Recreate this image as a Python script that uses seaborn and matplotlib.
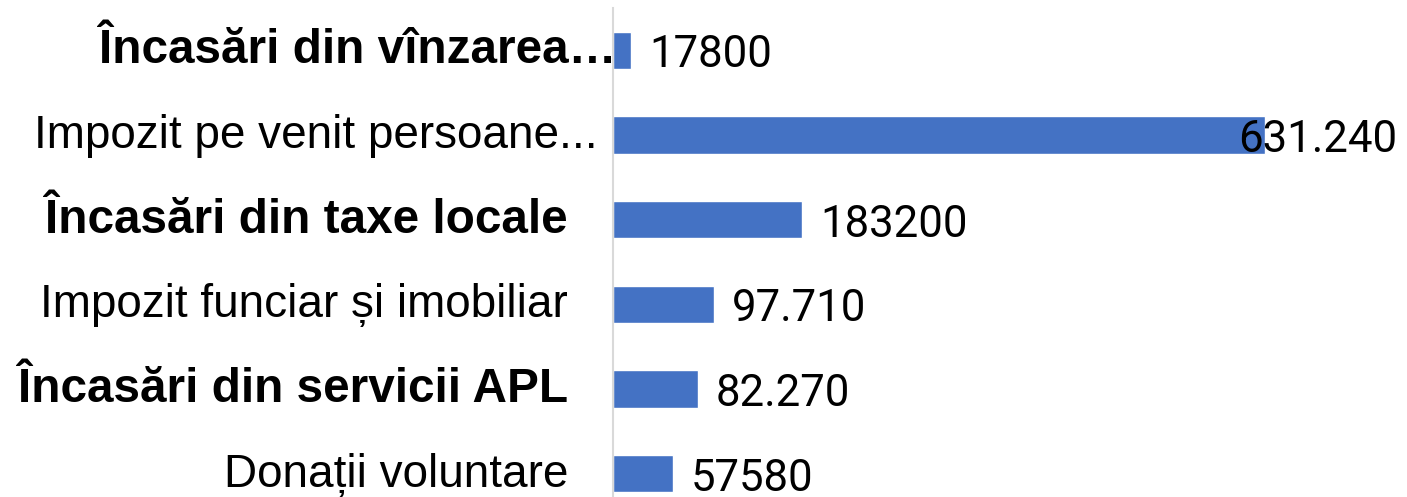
"""
Horizontal bar chart of local budget income sources, Excel-style look.
"""

import matplotlib

matplotlib.use("Agg")
import matplotlib.pyplot as plt
import pandas as pd
import seaborn as sns

categories = [
    "Încasări din vînzarea…",
    "Impozit pe venit persoane...",
    "Încasări din taxe locale",
    "Impozit funciar și imobiliar",
    "Încasări din servicii APL",
    "Donații voluntare",
]
values = [17800, 631240, 183200, 97710, 82270, 57580]
value_labels = ["17800", "631.240", "183200", "97.710", "82.270", "57580"]
bold_rows = [True, False, True, False, True, False]

BAR_COLOR = "#4472C4"
AXIS_COLOR = "#D9D9D9"
LABEL_FONT = "Liberation Sans"
VALUE_FONT = "Roboto"

df = pd.DataFrame({"category": categories, "value": values})

sns.set_theme(style="white")
plt.rcParams["font.family"] = [LABEL_FONT, "DejaVu Sans"]

fig = plt.figure(figsize=(14.07, 4.97), dpi=100)
ax = fig.add_axes([0.4357, -0.038, 0.5643, 1.022])

sns.barplot(data=df, x="value", y="category", color=BAR_COLOR, width=0.44,
            saturation=1, ax=ax)

ax.set_xlim(0, 768700)
ax.set_xlabel("")
ax.set_ylabel("")
ax.set_xticks([])
ax.set_yticks(range(len(categories)))
ax.set_yticklabels([])
ax.tick_params(left=False, bottom=False)
for side in ["top", "right", "bottom"]:
    ax.spines[side].set_visible(False)
ax.spines["left"].set_color(AXIS_COLOR)
ax.spines["left"].set_linewidth(1.5)

# category labels: truncated ones sit closer to the axis, like Excel does
label_pad = {0: -3, 1: 15}
for i, (name, bold) in enumerate(zip(categories, bold_rows)):
    ax.annotate(name, xy=(0, i), xycoords=ax.get_yaxis_transform(),
                xytext=(-label_pad.get(i, 45), -13), textcoords="offset pixels",
                ha="right", va="baseline", fontsize=34.4 if bold else 33,
                fontweight="bold" if bold else "normal", color="black",
                annotation_clip=False)

# value labels, the widest one pushed back inside the plot area
fig.canvas.draw()
renderer = fig.canvas.get_renderer()
right_px = ax.transAxes.transform((1, 0))[0] - 10
for i, (v, txt) in enumerate(zip(values, value_labels)):
    t = ax.annotate(txt, xy=(v, i), xytext=(18, -17), textcoords="offset pixels",
                    ha="left", va="baseline", fontsize=31.5,
                    family=[VALUE_FONT, "DejaVu Sans"], color="black",
                    annotation_clip=False)
    bb = t.get_window_extent(renderer)
    if bb.x1 > right_px:
        t.set_position((18 - (bb.x1 - right_px), -17))

fig.savefig("out.png", dpi=100)
